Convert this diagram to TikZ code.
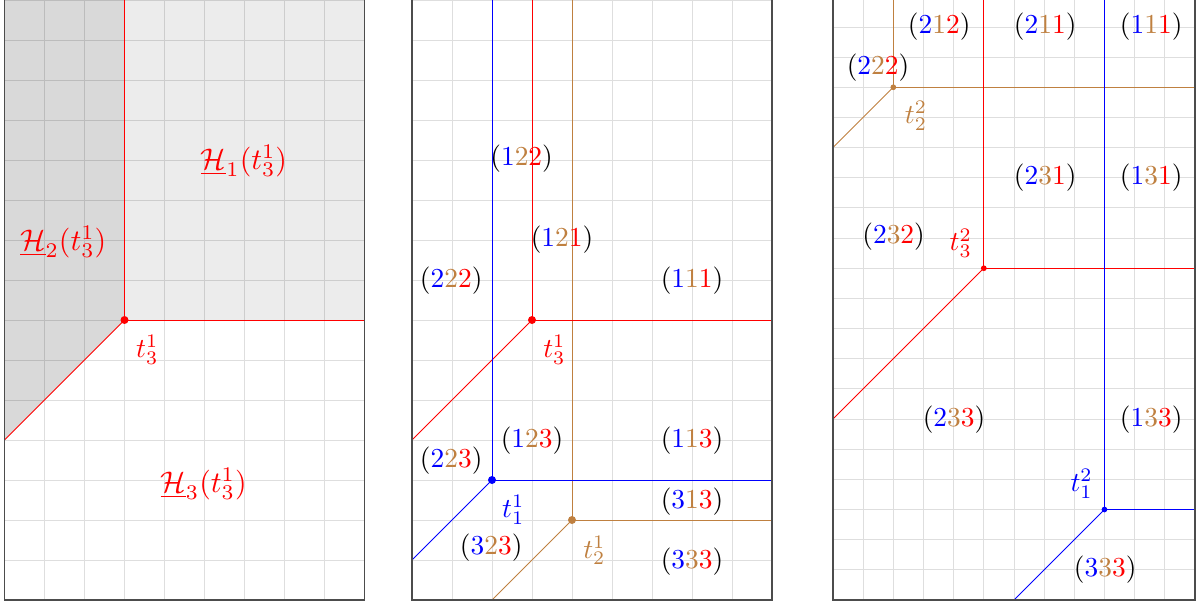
\documentclass[tikz,border=0pt]{standalone}
\usepackage{xcolor}
\definecolor{tbrown}{rgb}{0.75,0.5,0.25}
\definecolor{darkfill}{HTML}{D9D9D9}
\definecolor{lightfill}{HTML}{ECECEC}
\newcommand{\lbltri}[3]{$(\textcolor{blue}{#1}\textcolor{tbrown}{#2}\textcolor{red}{#3})$}
\tikzset{
  gridline/.style={draw=black, draw opacity=0.13, line width=0.6pt},
  frameline/.style={draw=black!70, line width=0.9pt},
  colline/.style={line width=0.65pt},
  lab/.style={scale=1.95, inner sep=0pt},
  hlab/.style={scale=2.12, inner sep=0pt, text=red},
}
\begin{document}
\begin{tikzpicture}[x=1cm,y=1cm]
\clip (0,0) rectangle (29.9,15.1);
% ---------------- Panel 1 ----------------
\begin{scope}[shift={(0.1125,0.1)}]
  \fill[darkfill] (0,4) -- (3,7) -- (3,16) -- (0,16) -- cycle;
  \fill[lightfill] (3,7) -- (9,7) -- (9,16) -- (3,16) -- cycle;
  \draw[gridline] (0,0) grid (9,16);
  \coordinate (a3) at (3,7);
  \coordinate (a3u) at (3,16);
  \coordinate (a3r) at (9,7);
  \coordinate (a3d) at (0,4);
  \draw[colline, red] (a3u) -- (a3);
  \draw[colline, red] (a3) -- (a3r);
  \draw[colline, red] (a3) -- (a3d);
  \fill[red] (a3) circle (0.1);
  \draw[frameline] (0,16) -- (0,0) -- (9,0) -- (9,16);
\end{scope}
\node[hlab] (h1) at (6.1,11.08) {$\underline{\mathcal{H}}_1(t_3^1)$};
\node[hlab] (h2) at (1.58,9.05) {$\underline{\mathcal{H}}_2(t_3^1)$};
\node[hlab] (h3) at (5.09,3.0) {$\underline{\mathcal{H}}_3(t_3^1)$};
\node[lab, text=red] (la3) at (3.68,6.36) {$t_3^1$};
% ---------------- Panel 2 ----------------
\begin{scope}[shift={(10.3,0.1)}]
  \draw[gridline] (0,0) grid (9,16);
  \coordinate (b3) at (3,7);
  \coordinate (b3u) at (3,16);
  \coordinate (b3r) at (9,7);
  \coordinate (b3d) at (0,4);
  \coordinate (b1) at (2,3);
  \coordinate (b1u) at (2,16);
  \coordinate (b1r) at (9,3);
  \coordinate (b1d) at (0,1);
  \coordinate (b2) at (4,2);
  \coordinate (b2u) at (4,16);
  \coordinate (b2r) at (9,2);
  \coordinate (b2d) at (2,0);
  \draw[colline, tbrown] (b2u) -- (b2);
  \draw[colline, tbrown] (b2) -- (b2r);
  \draw[colline, tbrown] (b2) -- (b2d);
  \draw[colline, red] (b3u) -- (b3);
  \draw[colline, red] (b3) -- (b3r);
  \draw[colline, red] (b3) -- (b3d);
  \draw[colline, blue] (b1u) -- (b1);
  \draw[colline, blue] (b1) -- (b1r);
  \draw[colline, blue] (b1) -- (b1d);
  \fill[red] (b3) circle (0.1);
  \fill[blue] (b1) circle (0.1);
  \fill[tbrown] (b2) circle (0.1);
  \draw[frameline] (0,16) -- (0,0) -- (9,0) -- (9,16);
\end{scope}
\node[lab] (q122) at (13.04,11.13) {\lbltri{1}{2}{2}};
\node[lab] (q121) at (14.05,9.1) {\lbltri{1}{2}{1}};
\node[lab] (q222) at (11.28,8.08) {\lbltri{2}{2}{2}};
\node[lab] (q111) at (17.3,8.08) {\lbltri{1}{1}{1}};
\node[lab, text=red] (lb3) at (13.86,6.35) {$t_3^1$};
\node[lab] (q123) at (13.3,4.08) {\lbltri{1}{2}{3}};
\node[lab] (q113) at (17.3,4.08) {\lbltri{1}{1}{3}};
\node[lab] (q223) at (11.28,3.58) {\lbltri{2}{2}{3}};
\node[lab, text=blue] (lb1) at (12.83,2.35) {$t_1^1$};
\node[lab] (q313) at (17.3,2.57) {\lbltri{3}{1}{3}};
\node[lab] (q323) at (12.28,1.4) {\lbltri{3}{2}{3}};
\node[lab, text=tbrown] (lb2) at (14.86,1.34) {$t_2^1$};
\node[lab] (q333) at (17.3,1.07) {\lbltri{3}{3}{3}};
% ---------------- Panel 3 ----------------
\begin{scope}[shift={(20.825,0.1)}, scale=0.754]
  \draw[gridline] (0,0) grid (12,21);
  \coordinate (c2) at (2,17);
  \coordinate (c2u) at (2,21);
  \coordinate (c2r) at (12,17);
  \coordinate (c2d) at (0,15);
  \coordinate (c3) at (5,11);
  \coordinate (c3u) at (5,21);
  \coordinate (c3r) at (12,11);
  \coordinate (c3d) at (0,6);
  \coordinate (c1) at (9,3);
  \coordinate (c1u) at (9,21);
  \coordinate (c1r) at (12,3);
  \coordinate (c1d) at (6,0);
  \draw[colline, tbrown] (c2u) -- (c2);
  \draw[colline, tbrown] (c2) -- (c2r);
  \draw[colline, tbrown] (c2) -- (c2d);
  \draw[colline, red] (c3u) -- (c3);
  \draw[colline, red] (c3) -- (c3r);
  \draw[colline, red] (c3) -- (c3d);
  \draw[colline, blue] (c1u) -- (c1);
  \draw[colline, blue] (c1) -- (c1r);
  \draw[colline, blue] (c1) -- (c1d);
  \fill[tbrown] (c2) circle (0.095);
  \fill[red] (c3) circle (0.095);
  \fill[blue] (c1) circle (0.095);
  \draw[frameline] (0,21) -- (0,0) -- (12,0) -- (12,21);
\end{scope}
\node[lab] (r212) at (23.48,14.44) {\lbltri{2}{1}{2}};
\node[lab] (r211) at (26.13,14.44) {\lbltri{2}{1}{1}};
\node[lab] (r111) at (28.78,14.44) {\lbltri{1}{1}{1}};
\node[lab] (r222) at (21.95,13.4) {\lbltri{2}{2}{2}};
\node[lab, text=tbrown] (lc2) at (22.9,12.2) {$t_2^2$};
\node[lab] (r231) at (26.13,10.65) {\lbltri{2}{3}{1}};
\node[lab] (r131) at (28.78,10.65) {\lbltri{1}{3}{1}};
\node[lab] (r232) at (22.34,9.18) {\lbltri{2}{3}{2}};
\node[lab, text=red] (lc3) at (24.02,9.02) {$t_3^2$};
\node[lab] (r233) at (23.85,4.6) {\lbltri{2}{3}{3}};
\node[lab] (r133) at (28.78,4.6) {\lbltri{1}{3}{3}};
\node[lab, text=blue] (lc1) at (27.04,3.0) {$t_1^2$};
\node[lab] (r333) at (27.63,0.87) {\lbltri{3}{3}{3}};
\end{tikzpicture}
\end{document}
